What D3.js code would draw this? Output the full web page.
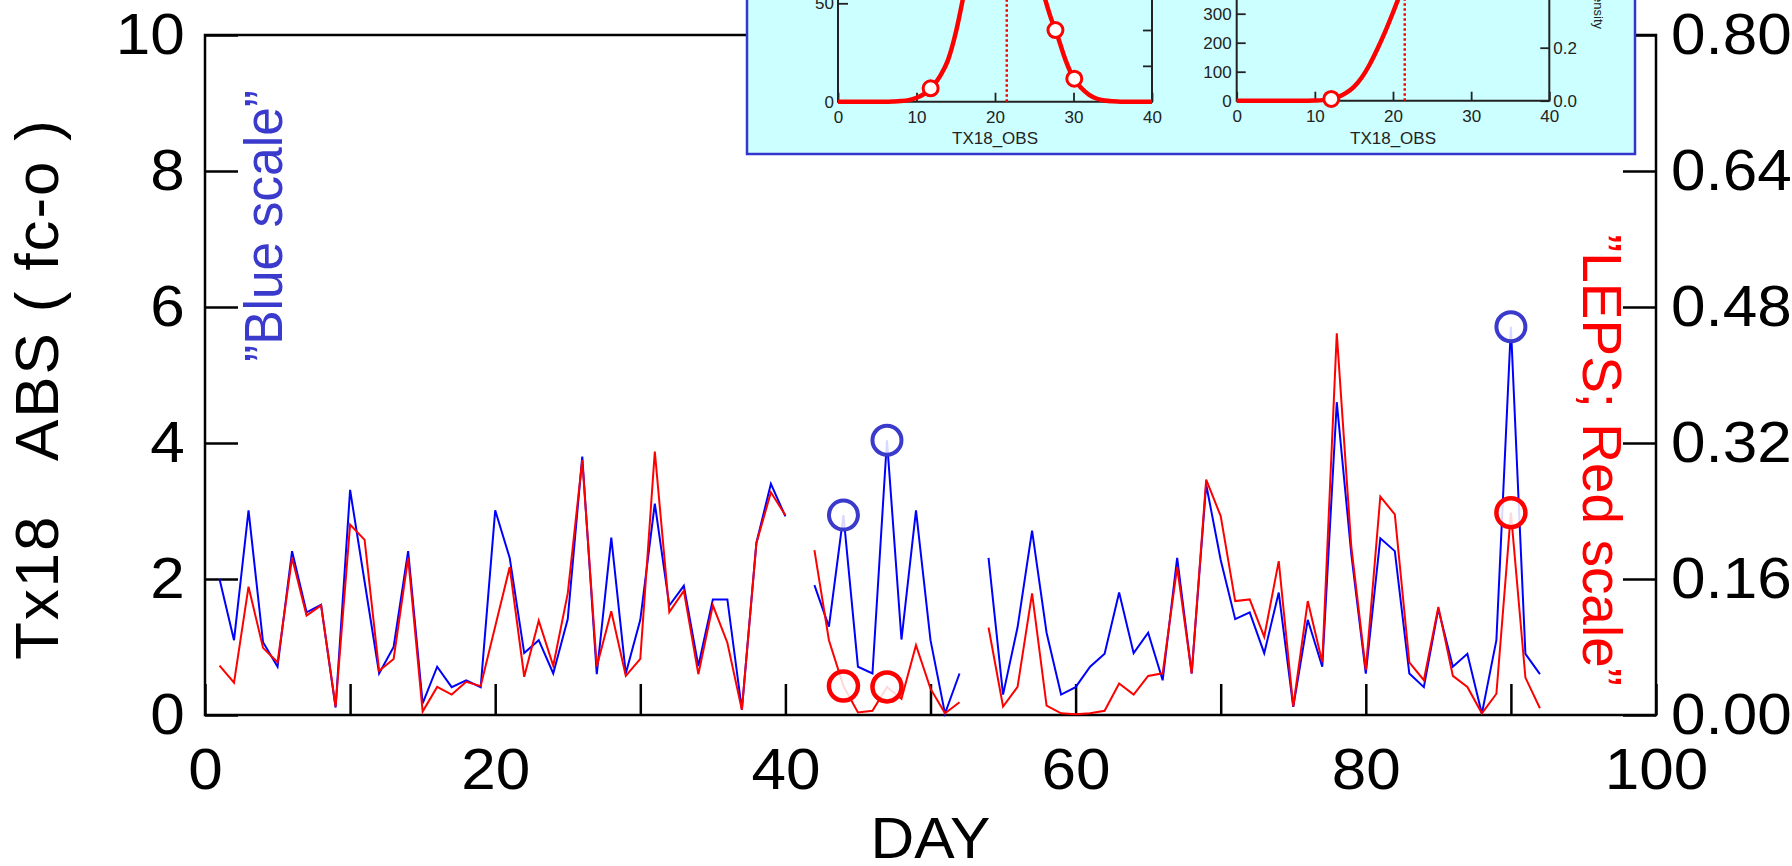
<!DOCTYPE html>
<html>
<head>
<meta charset="utf-8">
<script src="https://cdn.jsdelivr.net/npm/d3@7"></script>
<style>
  html, body { margin: 0; padding: 0; background: #ffffff; }
  svg { display: block; }
  text { font-family: "Liberation Sans", Arial, Helvetica, sans-serif; }
</style>
</head>
<body>
<svg id="chart" width="1792" height="866"></svg>
<script>
// ---- Daily series (day 1 .. 92); null = no forecast that day ----
const days = d3.range(1, 93);

// Tx18 absolute error |fc - o| (left, blue scale)
const absErr = [
  2.00, 1.10, 3.01, 1.07, 0.71, 2.41, 1.51, 1.62, 0.11, 3.31,
  1.96, 0.61, 1.00, 2.41, 0.17, 0.71, 0.41, 0.51, 0.41, 3.01,
  2.31, 0.91, 1.10, 0.61, 1.41, 3.80, 0.60, 2.61, 0.61, 1.40,
  3.11, 1.61, 1.90, 0.72, 1.70, 1.70, 0.08, 2.53, 3.40, 2.92,
  null, 1.91, 1.30, 2.94, 0.71, 0.61, 4.04, 1.11, 3.01, 1.10,
  0.02, 0.61, null, 2.31, 0.30, 1.29, 2.71, 1.21, 0.30, 0.41,
  0.71, 0.90, 1.80, 0.91, 1.21, 0.51, 2.31, 0.61, 3.39, 2.28,
  1.41, 1.51, 0.91, 1.80, 0.12, 1.40, 0.71, 4.60, 2.37, 0.61,
  2.60, 2.41, 0.61, 0.41, 1.56, 0.71, 0.90, 0.02, 1.10, 5.71,
  0.90, 0.60
];

// LEPS score (right, red scale)
const leps = [
  0.058, 0.038, 0.151, 0.079, 0.062, 0.185, 0.117, 0.129, 0.010, 0.224,
  0.206, 0.052, 0.066, 0.185, 0.004, 0.033, 0.024, 0.039, 0.034, 0.104,
  0.174, 0.045, 0.111, 0.058, 0.143, 0.300, 0.057, 0.122, 0.046, 0.066,
  0.310, 0.121, 0.146, 0.048, 0.129, 0.085, 0.006, 0.202, 0.262, 0.235,
  null, 0.194, 0.088, 0.034, 0.003, 0.005, 0.033, 0.019, 0.082, 0.031,
  0.002, 0.015, null, 0.103, 0.010, 0.033, 0.143, 0.011, 0.002, 0.001,
  0.002, 0.005, 0.037, 0.024, 0.046, 0.049, 0.174, 0.049, 0.277, 0.234,
  0.134, 0.136, 0.092, 0.181, 0.010, 0.134, 0.062, 0.449, 0.198, 0.053,
  0.257, 0.236, 0.062, 0.041, 0.127, 0.046, 0.033, 0.002, 0.025, 0.238,
  0.044, 0.008
];

// Highlighted days
const markedDays = [44, 47, 90];

// Axis ticks
const xTicks = [0, 10, 20, 30, 40, 50, 60, 70, 80, 90, 100];
const leftTicks = [0, 2, 4, 6, 8, 10];
const rightTicks = [0, 0.16, 0.32, 0.48, 0.64, 0.80];

// ---- Inset: observed Tx18 distribution ----
const obsTemp = [0,1,2,3,4,5,6,7,8,9,10,11,12,13,14,15,16,17,18,19,20,
                 21,22,23,24,25,26,27,28,29,30,31,32,33,34,35,36,37,38,39,40];
const obsCount = [0,0,0,0,0,0,0,0.1,0.3,0.8,2,4,7.5,13,21,35,54,75,97,115,127,
                  131,128,117,99,78,58,44,33,21,12,7,3.5,1.5,0.6,0.2,0,0,0,0,0];
const obsCumCount = [0,0,0,0,0,0,0,0,0,0.2,0.8,2,5,13,27,48,80,124,178,238,304,
                     374,445,512,572,622,660,688,706,717,724,727,729,730,730,730,730,730,730,730,730];
const obsMean = 21.5;
const pdfMarkT = [11.8, 27.7, 30.1];
const pdfMarkN = [6.8, 36.4, 11.7];
const cdfMarkT = [12.1];
const cdfMarkN = [6];

const svg = d3.select("#chart");
const plot = { left: 205, right: 1656, top: 35, bottom: 715 };

const x = d3.scaleLinear().domain([0, 100]).range([plot.left, plot.right]);
const yL = d3.scaleLinear().domain([0, 10]).range([plot.bottom, plot.top]);
const yR = d3.scaleLinear().domain([0, 0.8]).range([plot.bottom, plot.top]);

const FONT = 58;
const WIDEN = "scale(1.07,1)";

// ---- Axes ----
function styleAxis(g, size) {
  g.select(".domain").remove();
  g.selectAll(".tick line").attr("stroke", "#000").attr("stroke-width", 2.5);
  g.selectAll(".tick text").attr("fill", "#000").style("font-size", size + "px")
    .style("font-family", '"Liberation Sans", Arial, sans-serif')
    .attr("transform", WIDEN);
}

svg.append("g")
  .attr("transform", `translate(0,${plot.bottom})`)
  .call(d3.axisBottom(x).tickValues(xTicks)
        .tickFormat(d => d % 20 === 0 ? d : "")
        .tickSizeInner(-31).tickSizeOuter(0).tickPadding(33))
  .call(g => styleAxis(g, FONT));

svg.append("g")
  .attr("transform", `translate(${plot.left},0)`)
  .call(d3.axisLeft(yL).tickValues(leftTicks)
        .tickSizeInner(-33).tickSizeOuter(0).tickPadding(19))
  .call(g => styleAxis(g, FONT));

svg.append("g")
  .attr("transform", `translate(${plot.right},0)`)
  .call(d3.axisRight(yR).tickValues(rightTicks).tickFormat(d3.format(".2f"))
        .tickSizeInner(-33).tickSizeOuter(0).tickPadding(14))
  .call(g => styleAxis(g, FONT));

// frame
svg.append("rect")
  .attr("x", plot.left).attr("y", plot.top)
  .attr("width", plot.right - plot.left).attr("height", plot.bottom - plot.top)
  .attr("fill", "none").attr("stroke", "#000").attr("stroke-width", 2.5);

// ---- Series ----
const blueLine = d3.line()
  .defined((d, i) => absErr[i] !== null)
  .x(d => x(d)).y((d, i) => yL(absErr[i]));
const redLine = d3.line()
  .defined((d, i) => leps[i] !== null)
  .x(d => x(d)).y((d, i) => yR(leps[i]));

svg.append("path").attr("d", blueLine(days))
  .attr("fill", "none").attr("stroke", "#0000ff").attr("stroke-width", 2)
  .attr("stroke-linejoin", "miter");
svg.append("path").attr("d", redLine(days))
  .attr("fill", "none").attr("stroke", "#ff0000").attr("stroke-width", 2)
  .attr("stroke-linejoin", "miter");

// highlight rings
svg.selectAll("circle.blueMark").data(markedDays).join("circle")
  .attr("class", "blueMark")
  .attr("cx", d => x(d)).attr("cy", d => yL(absErr[days.indexOf(d)]))
  .attr("r", 14.5)
  .attr("fill", "#ffffff").attr("fill-opacity", 0.85)
  .attr("stroke", "#3a3acc").attr("stroke-width", 4);
svg.selectAll("circle.redMark").data(markedDays).join("circle")
  .attr("class", "redMark")
  .attr("cx", d => x(d)).attr("cy", d => yR(leps[days.indexOf(d)]))
  .attr("r", 14.5)
  .attr("fill", "#ffffff").attr("fill-opacity", 0.85)
  .attr("stroke", "#ff0000").attr("stroke-width", 4.5);

// ---- Labels ----
svg.append("text")
  .attr("x", (plot.left + plot.right) / 2).attr("y", 858)
  .attr("text-anchor", "middle").style("font-size", FONT + "px").attr("fill", "#000")
  .attr("textLength", 120).attr("lengthAdjust", "spacingAndGlyphs")
  .text("DAY");

svg.append("text")
  .attr("transform", "translate(58,390) rotate(-90)")
  .attr("text-anchor", "middle").style("font-size", "62px").attr("fill", "#000")
  .attr("xml:space", "preserve")
  .style("white-space", "pre")
  .attr("textLength", 540).attr("lengthAdjust", "spacing")
  .text("Tx18   ABS ( fc-o )");

svg.append("text")
  .attr("transform", "translate(282,226) rotate(-90)")
  .attr("text-anchor", "middle").style("font-size", "54px").attr("fill", "#3a3acc")
  .attr("textLength", 272).attr("lengthAdjust", "spacingAndGlyphs")
  .text("\u201DBlue scale\u201D");

svg.append("text")
  .attr("transform", "translate(1583,460) rotate(90)")
  .attr("text-anchor", "middle").style("font-size", "56px").attr("fill", "#ff0000")
  .attr("textLength", 452).attr("lengthAdjust", "spacingAndGlyphs")
  .text("\u201DLEPS; Red scale\u201D");

// ---- Inset ----
const inset = { x0: 747, x1: 1635, y0: -120, y1: 154 };
svg.append("clipPath").attr("id", "insetClip")
  .append("rect").attr("x", inset.x0).attr("y", inset.y0)
  .attr("width", inset.x1 - inset.x0).attr("height", inset.y1 - inset.y0);

const ig = svg.append("g");
ig.append("rect")
  .attr("x", inset.x0).attr("y", inset.y0)
  .attr("width", inset.x1 - inset.x0).attr("height", inset.y1 - inset.y0)
  .attr("fill", "#ccffff").attr("stroke", "#3535cc").attr("stroke-width", 2.5);

const ic = ig.append("g").attr("clip-path", "url(#insetClip)");
const IFONT = 17;
const INK = "#222";

function styleInsetAxis(g) {
  g.select(".domain").remove();
  g.selectAll(".tick line").attr("stroke", INK).attr("stroke-width", 1.8);
  g.selectAll(".tick text").attr("fill", INK).style("font-size", IFONT + "px");
}

function panelFrame(g, xs, yBottom) {
  const [a, b] = xs.range();
  g.append("path")
    .attr("d", `M${a},-200 L${a},${yBottom} L${b},${yBottom} L${b},-200`)
    .attr("fill", "none").attr("stroke", INK).attr("stroke-width", 2);
}

// left panel: counts
const pxL = d3.scaleLinear().domain([0, 40]).range([838, 1152]);
const pyL = d3.scaleLinear().domain([0, 150]).range([101.7, -193.5]);
const pyL2 = d3.scaleLinear().domain([0, 0.1]).range([101.7, -77.55]);

ic.append("g").attr("transform", "translate(0,101.7)")
  .call(d3.axisBottom(pxL).tickValues([0, 10, 20, 30, 40])
        .tickSizeInner(-9).tickSizeOuter(0).tickPadding(9))
  .call(styleInsetAxis);
ic.append("g").attr("transform", "translate(838,0)")
  .call(d3.axisLeft(pyL).tickValues([0, 50])
        .tickSizeInner(-10).tickSizeOuter(0).tickPadding(4))
  .call(styleInsetAxis);
ic.append("g").attr("transform", "translate(1152,0)")
  .call(d3.axisRight(pyL2).tickValues([0, 0.02, 0.04]).tickFormat("")
        .tickSizeInner(-9).tickSizeOuter(0))
  .call(styleInsetAxis);
panelFrame(ic, pxL, 101.7);

ic.append("line")
  .attr("x1", pxL(obsMean)).attr("x2", pxL(obsMean))
  .attr("y1", 101.7).attr("y2", -200)
  .attr("stroke", "#ff0000").attr("stroke-width", 2.5).attr("stroke-dasharray", "2.5,2.5");

const pdfLine = d3.line().curve(d3.curveMonotoneX)
  .x((d, i) => pxL(obsTemp[i])).y(d => pyL(d));
ic.append("path").attr("d", pdfLine(obsCount))
  .attr("fill", "none").attr("stroke", "#ff0000").attr("stroke-width", 4.5)
  .attr("stroke-linejoin", "round");
ic.selectAll("circle.pdfMark").data(pdfMarkT).join("circle")
  .attr("class", "pdfMark")
  .attr("cx", d => pxL(d)).attr("cy", (d, i) => pyL(pdfMarkN[i]))
  .attr("r", 7.5).attr("fill", "#fff").attr("stroke", "#ff0000").attr("stroke-width", 3);

ic.append("text").attr("x", pxL(20)).attr("y", 144)
  .attr("text-anchor", "middle").style("font-size", IFONT + "px").attr("fill", INK)
  .text("TX18_OBS");

// right panel: cumulative counts + density scale
const pxR = d3.scaleLinear().domain([0, 40]).range([1236.7, 1549.3]);
const pyR = d3.scaleLinear().domain([0, 1000]).range([100.7, -189.3]);
const pyRd = d3.scaleLinear().domain([0, 1]).range([100.7, -164.3]);

ic.append("g").attr("transform", "translate(0,100.7)")
  .call(d3.axisBottom(pxR).tickValues([0, 10, 20, 30, 40])
        .tickSizeInner(-9).tickSizeOuter(0).tickPadding(9))
  .call(styleInsetAxis);
ic.append("g").attr("transform", "translate(1236.7,0)")
  .call(d3.axisLeft(pyR).tickValues([0, 100, 200, 300])
        .tickSizeInner(-9).tickSizeOuter(0).tickPadding(5))
  .call(styleInsetAxis);
ic.append("g").attr("transform", "translate(1549.3,0)")
  .call(d3.axisRight(pyRd).tickValues([0, 0.2]).tickFormat(d3.format(".1f"))
        .tickSizeInner(-9).tickSizeOuter(0).tickPadding(4))
  .call(styleInsetAxis);
panelFrame(ic, pxR, 100.7);

ic.append("line")
  .attr("x1", pxR(obsMean)).attr("x2", pxR(obsMean))
  .attr("y1", 100.7).attr("y2", -200)
  .attr("stroke", "#ff0000").attr("stroke-width", 2.5).attr("stroke-dasharray", "2.5,2.5");

const cdfLine = d3.line().curve(d3.curveMonotoneX)
  .x((d, i) => pxR(obsTemp[i])).y(d => pyR(d));
ic.append("path").attr("d", cdfLine(obsCumCount))
  .attr("fill", "none").attr("stroke", "#ff0000").attr("stroke-width", 4.5)
  .attr("stroke-linejoin", "round");
ic.selectAll("circle.cdfMark").data(cdfMarkT).join("circle")
  .attr("class", "cdfMark")
  .attr("cx", d => pxR(d)).attr("cy", (d, i) => pyR(cdfMarkN[i]))
  .attr("r", 7.5).attr("fill", "#fff").attr("stroke", "#ff0000").attr("stroke-width", 3);

ic.append("text").attr("x", pxR(20)).attr("y", 144)
  .attr("text-anchor", "middle").style("font-size", IFONT + "px").attr("fill", INK)
  .text("TX18_OBS");

ic.append("text")
  .attr("transform", "translate(1594,29) rotate(90)")
  .attr("text-anchor", "end").style("font-size", "13px").attr("fill", INK)
  .text("Density");
</script>
</body>
</html>
